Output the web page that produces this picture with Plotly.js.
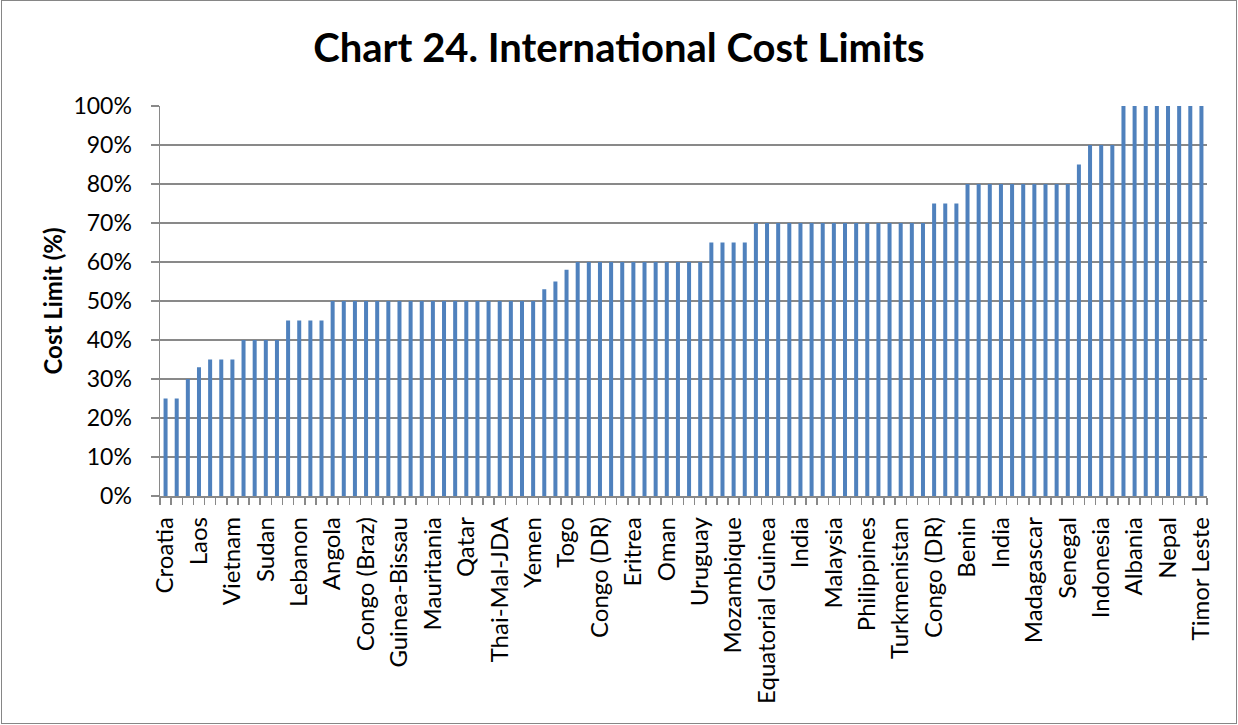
<!DOCTYPE html>
<html>
<head>
<meta charset="utf-8">
<script src="https://cdn.plot.ly/plotly-3.0.1.min.js"></script>
<style>
  html, body { margin: 0; padding: 0; background: #ffffff; }
  #wrap { position: relative; width: 1238px; height: 725px; }
  #chart { position: absolute; left: 0; top: 0; width: 1238px; height: 725px; }
  #frame { position: absolute; left: 1px; top: 0px; width: 1236px; height: 724px;
           border: 1.5px solid #868686; box-sizing: border-box; pointer-events: none; }
</style>
</head>
<body>
<div id="wrap">
  <div id="chart"></div>
  <div id="frame"></div>
</div>
<script>
// Countries shown on the axis (every third bar carries a label)
const shownLabels = ["Croatia","Laos","Vietnam","Sudan","Lebanon","Angola","Congo (Braz)",
  "Guinea-Bissau","Mauritania","Qatar","Thai-Mal-JDA","Yemen","Togo","Congo (DR)","Eritrea",
  "Oman","Uruguay","Mozambique","Equatorial Guinea","India","Malaysia","Philippines",
  "Turkmenistan","Congo (DR)","Benin","India","Madagascar","Senegal","Indonesia","Albania",
  "Nepal","Timor Leste"];
const labelEvery = 3;

// Cost limit (%) for each of the 94 bars, in chart order
const costLimit = [
  25,25,30,33,35,35,35,40,40,40,
  40,45,45,45,45,50,50,50,50,50,
  50,50,50,50,50,50,50,50,50,50,
  50,50,50,50,53,55,58,60,60,60,
  60,60,60,60,60,60,60,60,60,65,
  65,65,65,70,70,70,70,70,70,70,
  70,70,70,70,70,70,70,70,70,75,
  75,75,80,80,80,80,80,80,80,80,
  80,80,85,90,90,90,100,100,100,100,
  100,100,100,100
];

// Y-axis ticks
const yTickValues = [0,10,20,30,40,50,60,70,80,90,100];
const yTickLabels = ["0%","10%","20%","30%","40%","50%","60%","70%","80%","90%","100%"];

const barIndex = costLimit.map((_, i) => i);
const labelPositions = shownLabels.map((_, k) => k * labelEvery);

const gridGray = "#898989";
const fontFam = "Lato, 'Open Sans', sans-serif";

const trace = {
  type: "bar",
  x: barIndex,
  y: costLimit,
  marker: { color: "#4f81bd", line: { width: 0 } },
  hoverinfo: "skip"
};

const layout = {
  width: 1238,
  height: 725,
  margin: { l: 160, r: 31, t: 106, b: 229, pad: 0 },
  paper_bgcolor: "#ffffff",
  plot_bgcolor: "#ffffff",
  showlegend: false,
  bargap: 0.64,
  font: { family: fontFam, color: "#000000" },
  title: {
    text: "<b>Chart 24. International Cost Limits</b>",
    font: { family: fontFam, size: 40, color: "#000000" },
    xref: "container", x: 0.5, xanchor: "center",
    yref: "container", y: 1 - 48 / 725, yanchor: "middle"
  },
  xaxis: {
    type: "linear",
    range: [-0.5, costLimit.length - 0.5],
    tickmode: "array",
    tickvals: labelPositions,
    ticktext: shownLabels,
    tickangle: -90,
    ticks: "",
    ticklabelstandoff: 10,
    tickfont: { family: fontFam, size: 24, color: "#000000" },
    showgrid: false,
    zeroline: false,
    showline: true,
    linecolor: gridGray,
    linewidth: 1.5,
    minor: {
      tickmode: "linear",
      tick0: -0.5,
      dtick: 1,
      ticks: "outside",
      ticklen: 7,
      tickwidth: 1.5,
      tickcolor: gridGray,
      showgrid: false
    },
    fixedrange: true
  },
  yaxis: {
    range: [0, 100],
    tickmode: "array",
    tickvals: yTickValues,
    ticktext: yTickLabels,
    ticks: "outside",
    ticklen: 8,
    tickwidth: 1.5,
    tickcolor: gridGray,
    ticklabelstandoff: 14,
    tickfont: { family: fontFam, size: 23, color: "#000000" },
    showgrid: true,
    gridcolor: gridGray,
    gridwidth: 1.5,
    zeroline: false,
    showline: true,
    linecolor: gridGray,
    linewidth: 1.5,
    title: {
      text: "<b>Cost Limit (%)</b>",
      font: { family: fontFam, size: 24, color: "#000000" },
      standoff: 4
    },
    fixedrange: true
  }
};

Plotly.newPlot("chart", [trace], layout, { displayModeBar: false, staticPlot: true });
</script>
</body>
</html>
